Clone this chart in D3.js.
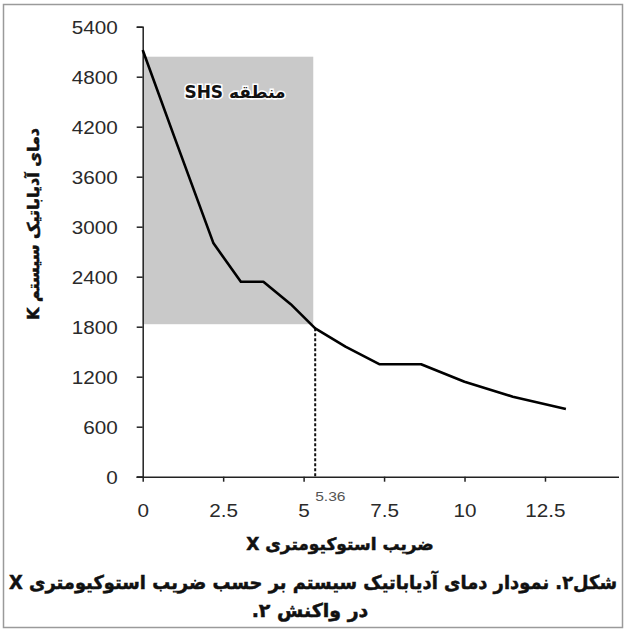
<!DOCTYPE html>
<html>
<head>
<meta charset="utf-8">
<script src="https://cdn.jsdelivr.net/npm/d3@7"></script>
<style>
  html, body { margin: 0; padding: 0; background: #fff; }
  svg { display: block; }
</style>
</head>
<body>
<svg id="chart" width="627" height="634"></svg>
<script>
// Stoichiometric coefficient X and adiabatic temperature (K)
const stoichX = [0, 1, 2.2, 3.05, 3.75, 4.6, 5.36, 6.3, 7.35, 8.65, 10, 11.5, 13.15];
const adiabaticT = [5120, 4060, 2800, 2340, 2340, 2070, 1780, 1560, 1350, 1350, 1140, 960, 812];

const xTicks = [0, 2.5, 5, 7.5, 10, 12.5];
const xTickLabels = ["0", "2.5", "5", "7.5", "10", "12.5"];
const yTicks = [0, 600, 1200, 1800, 2400, 3000, 3600, 4200, 4800, 5400];

// SHS region extent (X range and temperature range)
const shsX = [0, 5.3];
const shsT = [1830, 5040];
const shsLimitX = 5.36;
const shsLimitT = 1780;

const xTitle = "ضریب استوکیومتری X";
const yTitle = "دمای آدیاباتیک سیستم K";
const shsLabel = "منطقه SHS";
const captionLine1 = "شکل۲. نمودار دمای آدیاباتیک سیستم بر حسب ضریب استوکیومتری X";
const captionLine2 = "در واکنش ۲.";

const svg = d3.select("#chart");

const x = d3.scaleLinear().domain([0, 14.8]).range([142.7, 619]);
const y = d3.scaleLinear().domain([0, 5400]).range([476.7, 26.7]);

const numFont = "Liberation Sans, Arial, sans-serif";
const faFont = "DejaVu Sans, sans-serif";

// outer frame
svg.append("rect")
  .attr("x", 3.5).attr("y", 4.5).attr("width", 619).attr("height", 623)
  .attr("fill", "none").attr("stroke", "#9a9a9a").attr("stroke-width", 1.5);

// shaded SHS region
svg.append("rect")
  .attr("x", x(shsX[0]))
  .attr("y", y(shsT[1]))
  .attr("width", x(shsX[1]) - x(shsX[0]))
  .attr("height", y(shsT[0]) - y(shsT[1]))
  .attr("fill", "#c9c9c9");

// SHS label
svg.append("text")
  .attr("x", 235).attr("y", 98)
  .attr("text-anchor", "middle")
  .attr("direction", "rtl")
  .attr("font-family", faFont)
  .attr("font-weight", "bold")
  .attr("font-size", 17)
  .attr("fill", "#111")
  .attr("stroke", "#fff").attr("stroke-width", 3).attr("paint-order", "stroke")
  .text(shsLabel);

// dashed marker at the SHS limit
svg.append("line")
  .attr("x1", x(shsLimitX)).attr("x2", x(shsLimitX))
  .attr("y1", y(shsLimitT)).attr("y2", y(0))
  .attr("stroke", "#111").attr("stroke-width", 2)
  .attr("stroke-dasharray", "3,2");

// axes
const yAxis = d3.axisLeft(y).tickValues(yTicks).tickSize(6).tickPadding(18).tickFormat(d3.format("d"));
const yg = svg.append("g").attr("transform", `translate(${x(0)},0)`).call(yAxis);
yg.select(".domain").attr("stroke", "#222").attr("stroke-width", 1.5);
yg.selectAll(".tick line").attr("stroke", "#222").attr("stroke-width", 1.5);
yg.selectAll(".tick text")
  .attr("x", 0)
  .attr("transform", "translate(-25,1) scale(1.15,1)")
  .attr("font-family", numFont)
  .attr("font-size", 18).attr("fill", "#2a2a2a");

const xAxis = d3.axisBottom(x).tickValues(xTicks).tickSize(5).tickPadding(23)
  .tickFormat((d, i) => xTickLabels[i]);
const xg = svg.append("g").attr("transform", `translate(0,${y(0)})`).call(xAxis);
xg.select(".domain").attr("stroke", "#222").attr("stroke-width", 1.5)
  .attr("d", `M${x(0) - 6},0.5H${x.range()[1]}`);
xg.selectAll(".tick line").attr("stroke", "#222").attr("stroke-width", 1.5);
xg.selectAll(".tick text")
  .attr("transform", "scale(1.15,1)")
  .attr("font-family", numFont)
  .attr("font-size", 18).attr("fill", "#2a2a2a");

// value label of the SHS limit
svg.append("text")
  .attr("transform", `translate(${x(shsLimitX)},501) scale(1.3,1)`)
  .attr("font-family", numFont)
  .attr("font-size", 12).attr("fill", "#555")
  .text("5.36");

// temperature curve
const line = d3.line()
  .x((d, i) => x(stoichX[i]))
  .y(d => y(d));
svg.append("path")
  .datum(adiabaticT)
  .attr("d", line)
  .attr("fill", "none")
  .attr("stroke", "#000")
  .attr("stroke-width", 2.6)
  .attr("stroke-linejoin", "round");

// axis titles
function persianText(sel) {
  return sel
    .attr("direction", "rtl")
    .attr("font-family", faFont)
    .attr("font-weight", "bold")
    .attr("fill", "#111")
    .attr("stroke", "#111").attr("stroke-width", 0.5);
}

svg.append("text")
  .attr("x", 340).attr("y", 550)
  .attr("text-anchor", "middle")
  .attr("font-size", 17)
  .call(persianText)
  .text(xTitle);

svg.append("text")
  .attr("transform", "translate(39,224) rotate(-90)")
  .attr("text-anchor", "middle")
  .attr("font-size", 16)
  .call(persianText)
  .text(yTitle);

// caption
svg.append("text")
  .attr("x", 313).attr("y", 589)
  .attr("text-anchor", "middle")
  .attr("font-size", 19)
  .attr("textLength", 608).attr("lengthAdjust", "spacingAndGlyphs")
  .call(persianText)
  .text(captionLine1);

svg.append("text")
  .attr("x", 310).attr("y", 617)
  .attr("text-anchor", "middle")
  .attr("font-size", 19)
  .call(persianText)
  .text(captionLine2);
</script>
</body>
</html>
